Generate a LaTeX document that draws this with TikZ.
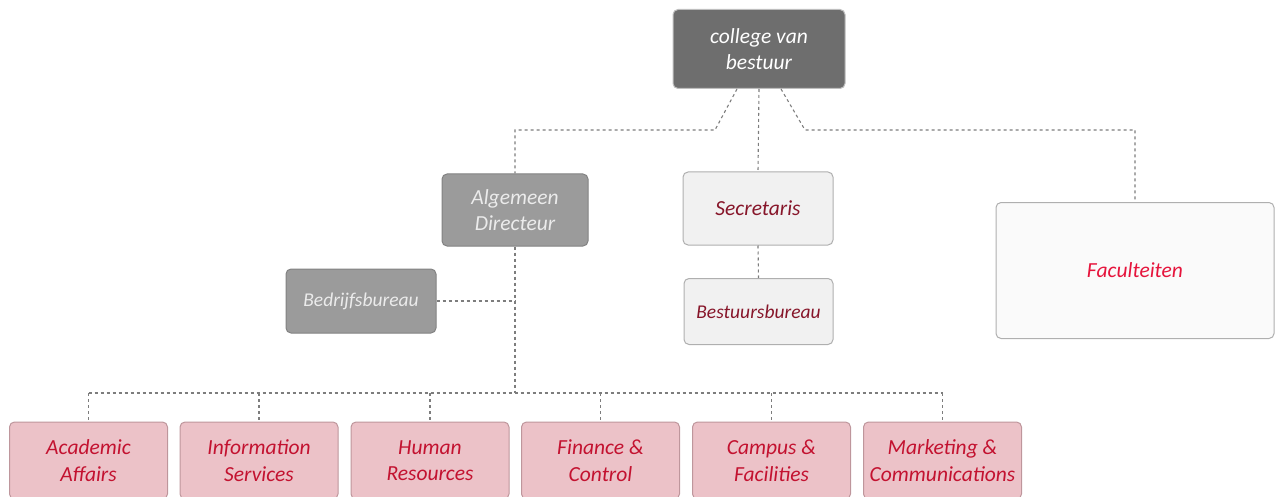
\documentclass[tikz,border=0pt]{standalone}
\usepackage{fontspec}
\setmainfont{Carlito}
\usetikzlibrary{calc}
\definecolor{darkbox}{RGB}{110,110,110}
\definecolor{darkedge}{RGB}{190,190,190}
\definecolor{midbox}{RGB}{155,155,155}
\definecolor{midedge}{RGB}{130,130,130}
\definecolor{lightbox}{RGB}{241,241,241}
\definecolor{lightedge}{RGB}{175,175,175}
\definecolor{facbox}{RGB}{250,250,250}
\definecolor{pinkbox}{RGB}{236,194,200}
\definecolor{pinkedge}{RGB}{190,150,156}
\definecolor{darkred}{RGB}{135,22,42}
\definecolor{pinktext}{RGB}{195,18,48}
\definecolor{factext}{RGB}{230,20,60}
\definecolor{conncol}{RGB}{125,125,125}
\begin{document}
\begin{tikzpicture}[x=1pt,y=-1pt,
  base/.style={rounded corners=5pt, line width=1pt, align=center, inner sep=0pt,
    font=\itshape\fontsize{21.5}{26.5}\selectfont},
  darkstyle/.style={base, fill=darkbox, draw=darkedge, text=white},
  midstyle/.style={base, fill=midbox, draw=midedge, text=white!92!black},
  lightstyle/.style={base, fill=lightbox, draw=lightedge, text=darkred},
  facstyle/.style={base, fill=facbox, draw=lightedge, text=factext},
  pinkstyle/.style={base, fill=pinkbox, draw=pinkedge, text=pinktext,
    minimum width=158pt, minimum height=77pt},
  conn/.style={draw=conncol, line width=1.1pt, dash pattern=on 3pt off 3pt}
]
\useasboundingbox (0,0) rectangle (1276,497);

\node[darkstyle, minimum width=172pt, minimum height=79pt] (col) at (759,49) {college van\\bestuur};
\node[midstyle, minimum width=146pt, minimum height=72pt] (alg) at (515,210) {Algemeen\\Directeur};
\node[lightstyle, minimum width=150pt, minimum height=73pt] (sec) at (758,208.5) {Secretaris};
\node[lightstyle, minimum width=149pt, minimum height=66pt, font=\itshape\fontsize{19.5}{24}\selectfont] (bst) at (758.5,311.5) {Bestuursbureau};
\node[facstyle, minimum width=278pt, minimum height=136pt] (fac) at (1135,270.5) {Faculteiten};
\node[midstyle, minimum width=150pt, minimum height=64pt, font=\itshape\fontsize{19.5}{24}\selectfont] (bed) at (361,301) {Bedrijfsbureau};

\node[pinkstyle] (b1) at (88.5,460.5) {Academic\\Affairs};
\node[pinkstyle] (b2) at (259,460.5) {Information\\Services};
\node[pinkstyle] (b3) at (430,460.5) {Human\\Resources};
\node[pinkstyle] (b4) at (600.5,460.5) {Finance \&\\Control};
\node[pinkstyle] (b5) at (771.5,460.5) {Campus \&\\Facilities};
\node[pinkstyle] (b6) at (942.5,460.5) {Marketing \&\\Communications};

\coordinate (bus) at (515,393);

\draw[conn] ([xshift=-22pt]col.south) -- ++(-22,41) -| (alg.north);
\draw[conn] (col.south) -- (sec.north);
\draw[conn] ([xshift=22pt]col.south) -- ++(24,41) -| (fac.north);
\draw[conn] (sec.south) -- (bst.north);
\draw[conn] (alg.south) -- (alg.south |- bus);
\draw[conn] (bed.east) -- (bed.east -| alg.south);
\draw[conn] (b1.north |- bus) -- (b6.north |- bus);
\foreach \b in {b1,b2,b3,b4,b5,b6}{
  \draw[conn] (\b.north |- bus) -- (\b.north);
}
\end{tikzpicture}
\end{document}
